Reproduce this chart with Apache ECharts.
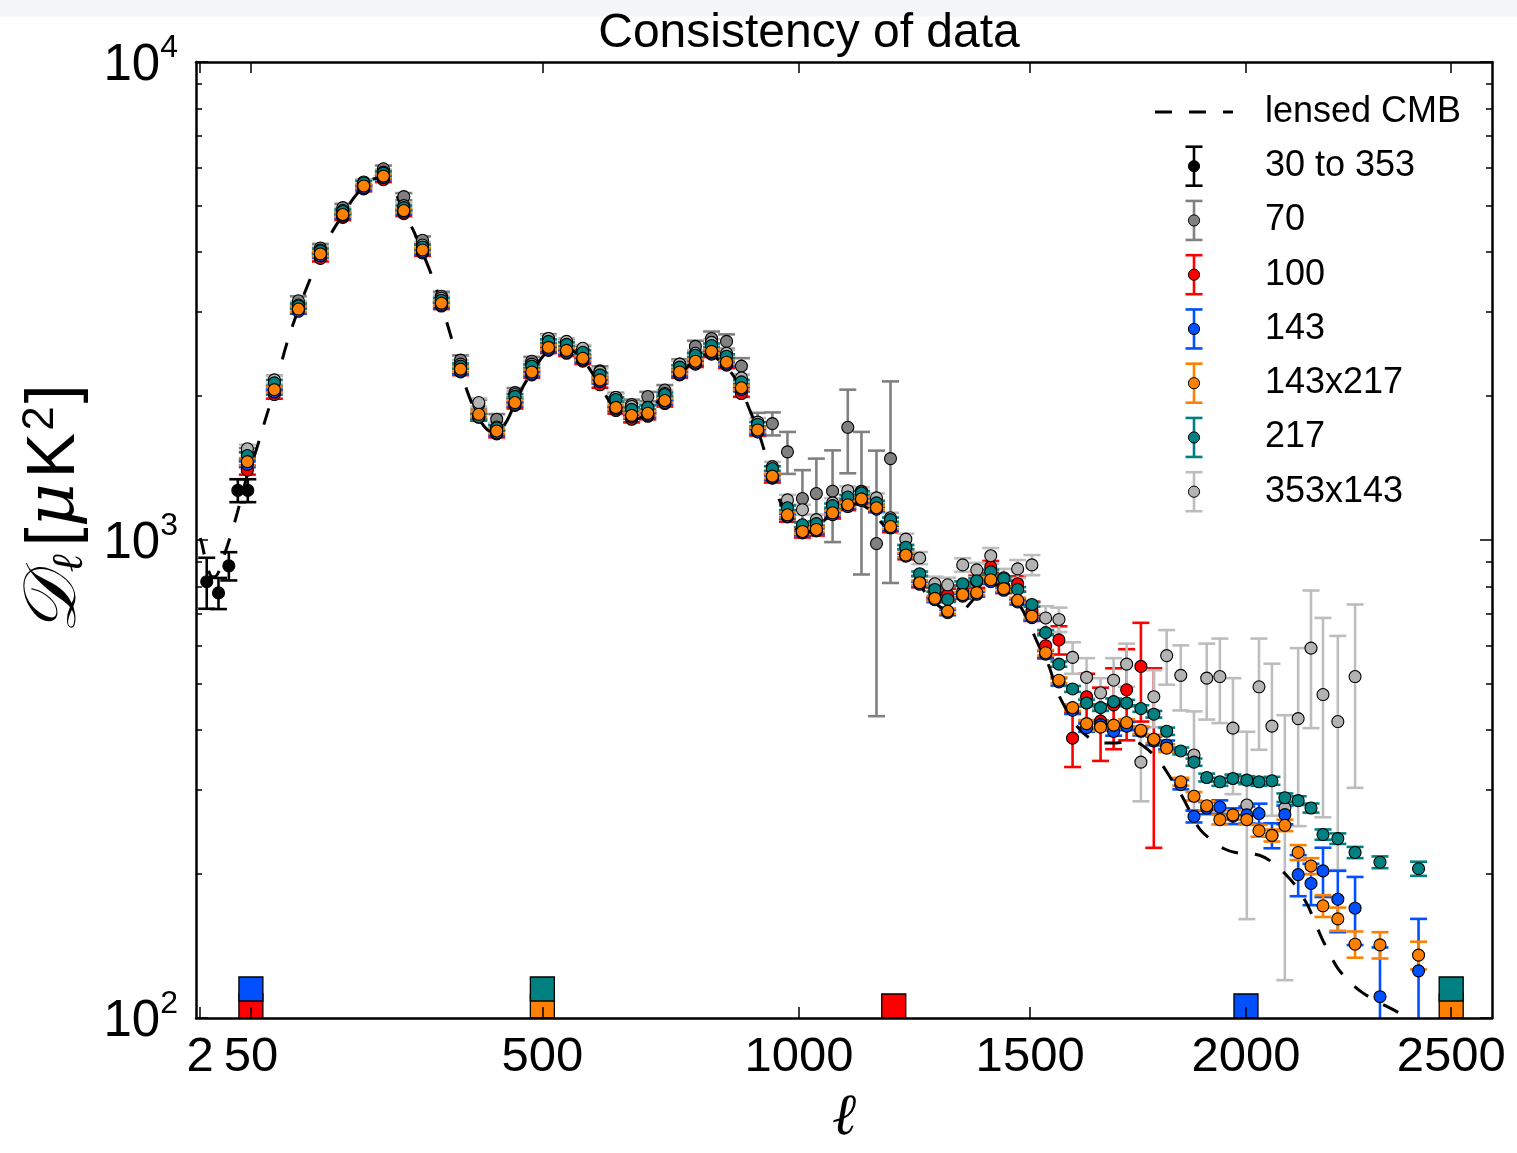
<!DOCTYPE html>
<html><head><meta charset="utf-8">
<script src="https://cdn.jsdelivr.net/npm/echarts@6/dist/echarts.min.js"></script>
<style>html,body{margin:0;padding:0;background:#fff}#c{position:absolute;left:0;top:0;width:1517px;height:1153px}</style>
</head><body><div id="c"></div>
<script>
// ---------------- DATA ----------------
// common multipole bins (binned spectra)
const ell = [46, 78, 109, 139, 171, 202, 232, 264, 294, 325,
 357, 388, 419, 451, 481, 511, 544, 574, 606, 636,
 666, 697, 730, 759, 790, 822, 852, 882, 915, 945,
 976, 1007, 1036, 1070, 1102, 1131, 1163, 1193, 1226, 1256,
 1289, 1317, 1350, 1381, 1412, 1441, 1472, 1504, 1535, 1565,
 1596, 1628, 1660, 1690, 1720, 1753, 1783, 1813, 1846, 1877,
 1907, 1938, 1969, 2002, 2031, 2062, 2093, 2125, 2156, 2185,
 2221, 2263, 2324, 2419];

const d143x217 = [1459, 2063, 3042, 3968, 4797, 5504, 5772, 4889, 4044, 3130,
 2278, 1832, 1691, 1939, 2247, 2529, 2493, 2400, 2163, 1894,
 1823, 1841, 1958, 2247, 2366, 2481, 2355, 2082, 1699, 1360,
 1129, 1042, 1052, 1140, 1185, 1219, 1168, 1067, 930, 814,
 755, 710, 769, 776, 826, 791, 748, 693, 581, 509,
 446, 413, 406, 410, 415, 400, 383, 367, 312, 291,
 278, 260, 266, 260, 246.5, 241, 253, 222, 208, 171.7,
 161.2, 142.7, 142.2, 135.4];
const s143x217 = [25, 30, 40, 45, 50, 55, 55, 50, 45, 40,
 30, 25, 22, 22, 24, 26, 26, 25, 23, 20,
 19, 19, 20, 22, 23, 24, 23, 21, 18, 15,
 13, 12, 12, 12, 12, 12, 12, 11, 10, 9,
 9, 9, 9, 9, 9, 9, 9, 8, 8, 7,
 7, 7, 7, 7, 7, 7, 7, 7, 6, 6,
 6, 6, 6, 6, 7, 7, 7, 8, 8, 9,
 9, 9, 9, 9];

const d217 = [1502, 2132, 3086, 4025, 4866, 5584, 5855, 4959, 4102, 3174,
 2311, 1809, 1715, 1997, 2311, 2603, 2566, 2470, 2215, 1968,
 1876, 1894, 2015, 2300, 2435, 2553, 2424, 2142, 1747, 1411,
 1168, 1076, 1082, 1180, 1230, 1254, 1196, 1103, 966, 850,
 788, 751, 810, 822, 858, 830, 788, 733, 640, 550,
 488, 456, 446, 459, 456, 444, 432, 398, 362, 343,
 318.5, 312, 317, 314.5, 312, 313.5, 289, 285, 275, 242,
 237.3, 222, 211.8, 205.3];
const s217 = [25, 30, 40, 45, 50, 55, 55, 50, 45, 40,
 30, 25, 22, 22, 24, 26, 26, 25, 23, 20,
 19, 19, 20, 22, 23, 24, 23, 21, 18, 15,
 13, 12, 12, 12, 12, 12, 12, 11, 10, 9,
 9, 9, 9, 9, 9, 9, 9, 8, 8, 7,
 7, 7, 7, 7, 7, 7, 7, 7, 6, 6,
 6, 6, 6, 6, 6, 6, 6, 6, 6, 6,
 6, 6, 6, 7];

const d100 = [1400, 2015, 3030, 3881, 4729, 5426, 5672, 4818, 3987, 3086,
 2247, 1806, 1667, 1912, 2215, 2493, 2458, 2366, 2112, 1866,
 1789, 1815, 1930, 2215, 2333, 2447, 2322, 2025, 1683, 1347,
 1118, 1037, 1047, 1134, 1180, 1213, 1168, 1062, 934, 818,
 773, 769, 780, 818, 879, 800, 810, 710, 601, 618,
 385, 470, 418, 452, 486, 544, 383];
const s100 = [30, 40, 50, 55, 60, 65, 65, 60, 55, 45,
 35, 30, 28, 28, 30, 32, 32, 32, 30, 28,
 27, 27, 28, 30, 32, 33, 33, 32, 30, 28,
 26, 25, 25, 25, 25, 25, 25, 24, 23, 22,
 22, 22, 23, 24, 25, 26, 30, 33, 36, 42,
 50, 55, 73, 87, 105, 127, 156];

const d143 = [1440, 2040, 3010, 3930, 4760, 5460, 5730, 4850, 4010, 3100,
 2255, 1815, 1675, 1920, 2225, 2505, 2470, 2380, 2145, 1880,
 1810, 1825, 1940, 2225, 2345, 2460, 2335, 2065, 1685, 1350,
 1120, 1035, 1045, 1130, 1175, 1210, 1160, 1060, 925, 808,
 750, 705, 763, 770, 818, 785, 742, 688, 577, 505,
 440.5, 405, 411, 397.6, 408, 398, 380, 372.6, 307.8, 264,
 275, 276.3, 264.5, 266, 267.8, 241, 266.3, 199.5, 191.2, 203.1,
 177.2, 169.7, 110.8, 125.5];
const s143 = [20, 25, 35, 40, 45, 50, 50, 45, 40, 35,
 28, 22, 20, 20, 22, 24, 24, 23, 21, 19,
 18, 18, 19, 20, 21, 22, 22, 20, 18, 15,
 13, 12, 12, 12, 12, 12, 12, 11, 10, 9,
 9, 9, 9, 9, 9, 9, 9, 9, 9, 9,
 8, 8, 8, 8, 8, 8, 8, 8, 7, 7.5,
 8, 9, 10, 11, 13, 14.5, 12, 19.7, 19, 24,
 26, 27.6, 29.7, 35.7];

const d70 = [1516, 2153, 3165, 4083, 4959, 5557, 5978, 5228, 4237, 3236,
 2378, 1921, 1789, 2034, 2366, 2640, 2578, 2493, 2258, 1987,
 1921, 1996, 2059, 2333, 2541, 2640, 2603, 2311, 1755, 1752,
 1529, 1221, 1251, 1265, 1721, 1265, 983, 1480];
const s70 = [40, 55, 70, 80, 90, 95, 95, 90, 80, 70,
 55, 45, 45, 45, 50, 55, 55, 55, 50, 45,
 45, 45, 50, 55, 70, 90, 90, 90, 90, 97,
 154, 179, 229, 275, 342, 418, 555, 667];

const d353x143 = [1552, 2163, 3101, 4044, 4889, 5611, 5883, 5006, 4141, 3205,
 2333, 1939, 1723, 2015, 2333, 2640, 2603, 2518, 2247, 1987,
 1903, 1894, 2025, 2333, 2458, 2591, 2458, 2184, 1764, 1424,
 1213, 1157, 1103, 1196, 1268, 1262, 1225, 1113, 1004, 917,
 810, 806, 887, 866, 927, 834, 870, 887, 687, 682,
 568, 516, 479, 509, 550, 343, 470, 573, 521, 355,
 514, 518, 404, 279, 493, 408, 275, 423, 594, 475,
 417, 518];
const s353x143 = [30, 40, 55, 65, 70, 75, 75, 70, 65, 55,
 45, 38, 35, 35, 38, 40, 40, 40, 38, 35,
 33, 33, 34, 36, 38, 40, 40, 38, 35, 33,
 30, 28, 27, 27, 27, 27, 27, 27, 27, 27,
 28, 28, 29, 30, 35, 36, 38, 43, 40, 40,
 43, 50, 35, 57, 57, 59, 64, 75, 81, 83,
 93, 104, 110, 118, 129, 143, 155, 171, 190, 212,
 213, 215];

// low-ell "30 to 353" points
const lowEll = [6.5, 16.4, 26.3, 35.6, 46.5];
const dLow = [818, 775, 883, 1270, 1270];
const sLow = [100, 58, 60, 70, 70];

// lensed CMB model [ell, D_ell]
const lensedCMB = [
[2,1010],[3,985],[5,925],[8,862],[11,838],[14,840],[17,862],[20,905],[25,975],[30,1050],
[35,1140],[40,1240],[47,1390],[54,1500],[65,1740],[78,2063],[93,2550],[109,3040],[125,3520],[139,3960],
[155,4400],[171,4790],[186,5170],[202,5490],[218,5700],[232,5720],[248,5400],[264,4880],[280,4420],[294,4000],
[310,3550],[325,3110],[340,2690],[357,2270],[372,1990],[388,1800],[403,1700],[419,1680],[435,1760],[451,1930],
[466,2100],[481,2240],[496,2380],[511,2490],[530,2550],[544,2520],[560,2470],[574,2390],[590,2250],[606,2110],
[620,1980],[636,1870],[652,1800],[666,1780],[682,1800],[697,1850],[713,1930],[730,2020],[745,2110],[759,2200],
[775,2310],[790,2390],[806,2440],[822,2430],[837,2380],[852,2300],[868,2190],[882,2060],[898,1880],[915,1700],
[930,1520],[945,1340],[960,1210],[976,1110],[992,1060],[1007,1035],[1022,1040],[1036,1065],[1053,1100],[1070,1140],
[1086,1170],[1102,1185],[1117,1190],[1131,1185],[1147,1160],[1163,1120],[1178,1075],[1193,1050],[1208,1010],[1226,935],
[1241,875],[1256,815],[1272,765],[1289,740],[1303,722],[1317,712],[1333,705],[1350,710],[1365,735],[1381,765],
[1396,790],[1412,803],[1427,805],[1441,795],[1457,770],[1472,740],[1488,700],[1504,648],[1520,600],[1540,552],
[1563,478],[1583,440],[1603,411],[1630,388],[1658,377],[1690,376],[1720,378],[1738,378],[1760,370],[1783,355],
[1802,339],[1825,315],[1849,291],[1870,268],[1891,248],[1920,235],[1948,226],[1975,222],[2002,221],[2032,219],
[2062,212],[2099,198],[2125,186],[2148,172],[2165,159],[2182,147],[2200,137],[2221,127],[2250,119],[2281,113],
[2320,108],[2362,103.5],[2400,99],[2450,93],[2500,87],[2550,81],[2600,76]
];

// ell-range markers along the bottom
const markEll = [50, 50, 500, 500, 1200, 2000, 2500, 2500];
const markName = ['100', '143', '143x217', '217', '100', '143', '143x217', '217'];

// axis ticks
const xTickEll = [2, 50, 500, 1000, 1500, 2000, 2500];
const ellMax = 2602;
const yMin = 100, yMax = 10000;

const legendOrder = ['30 to 353', '70', '100', '143', '143x217', '217', '353x143'];

// ---------------- CHART ----------------
const P = 0.8;                       // axis is linear in ell^0.8
const tx = l => Math.pow(l, P);
const FONT = '"Liberation Sans", Arial, sans-serif';

const styleOf = {
  '30 to 353': {fill: '#000000', err: '#000000'},
  '70':        {fill: '#808080', err: '#808080'},
  '100':       {fill: '#ff0000', err: '#ff0000'},
  '143':       {fill: '#0050ff', err: '#0050ff'},
  '143x217':   {fill: '#ff8000', err: '#ff8000'},
  '217':       {fill: '#008080', err: '#008080'},
  '353x143':   {fill: '#b3b3b3', err: '#bdbdbd'}
};

// drawing order (bottom to top)
const defs = [
  {name: '30 to 353', l: lowEll, d: dLow, s: sLow},
  {name: '70', l: ell, d: d70, s: s70},
  {name: '100', l: ell, d: d100, s: s100},
  {name: '353x143', l: ell, d: d353x143, s: s353x143},
  {name: '143', l: ell, d: d143, s: s143},
  {name: '217', l: ell, d: d217, s: s217},
  {name: '143x217', l: ell, d: d143x217, s: s143x217}
];

function errRender(color) {
  return function (params, api) {
    const x = api.value(0);
    const a = api.coord([x, api.value(1)]);
    const b = api.coord([x, api.value(2)]);
    const hw = 8.5;
    const st = {stroke: color, lineWidth: 2.6};
    return {type: 'group', children: [
      {type: 'line', shape: {x1: a[0], y1: a[1], x2: b[0], y2: b[1]}, style: st},
      {type: 'line', shape: {x1: a[0] - hw, y1: a[1], x2: a[0] + hw, y2: a[1]}, style: st},
      {type: 'line', shape: {x1: b[0] - hw, y1: b[1], x2: b[0] + hw, y2: b[1]}, style: st}
    ]};
  };
}

const series = [];
series.push({
  type: 'line', name: 'lensed CMB', data: lensedCMB.map(p => [tx(p[0]), p[1]]),
  showSymbol: false, symbol: 'none', smooth: 0.35, clip: true, silent: true,
  lineStyle: {color: '#000', width: 3, type: [17, 17]}, z: 2
});
defs.forEach(df => {
  const st = styleOf[df.name];
  const pts = [];
  for (let i = 0; i < df.d.length; i++) {
    if (df.d[i] == null) continue;
    pts.push({x: tx(df.l[i]), y: df.d[i], s: df.s[i]});
  }
  series.push({
    type: 'custom', name: df.name + ' err', clip: true, silent: true, z: 2,
    data: pts.map(p => [p.x, p.y - p.s, p.y + p.s]),
    encode: {x: 0, y: [1, 2]},
    renderItem: errRender(st.err)
  });
  series.push({
    type: 'scatter', name: df.name, clip: true, silent: true, z: 2,
    data: pts.map(p => [p.x, p.y]),
    symbol: 'circle', symbolSize: 12,
    itemStyle: {color: st.fill, borderColor: '#000', borderWidth: 1.1, opacity: 1}
  });
});
// range squares
const rowCount = {};
const markData = markEll.map((l, i) => {
  const row = rowCount[l] || 0; rowCount[l] = row + 1;
  return {value: [tx(l), yMin], symbolOffset: [0, row === 0 ? -12 : -29],
          itemStyle: {color: styleOf[markName[i]].fill}};
});
series.push({
  type: 'scatter', name: 'ranges', data: markData, symbol: 'rect', symbolSize: 24,
  clip: false, silent: true, z: 2,
  itemStyle: {borderColor: '#000', borderWidth: 1.3, opacity: 1}
});

// legend (drawn as graphic)
const lg = [];
lg.push({type: 'rect', shape: {x: 0, y: 0, width: 1517, height: 16.5}, style: {fill: '#f4f5f7'}, z: -5});
lg.push({type: 'line', shape: {x1: 1155, y1: 112, x2: 1233, y2: 112},
         style: {stroke: '#000', lineWidth: 3, lineDash: [17, 17]}});
lg.push({type: 'text', x: 1265, y: 112,
         style: {text: 'lensed CMB', fontSize: 36, fontFamily: FONT, fill: '#000', verticalAlign: 'middle', align: 'left'}});
legendOrder.forEach((nm, i) => {
  const y = 166.2 + 54.25 * i, x = 1194, st = styleOf[nm];
  const h = 19.5;
  const ls = {stroke: st.err, lineWidth: 2.6};
  lg.push({type: 'line', shape: {x1: x, y1: y - h, x2: x, y2: y + h}, style: ls});
  lg.push({type: 'line', shape: {x1: x - 8.5, y1: y - h, x2: x + 8.5, y2: y - h}, style: ls});
  lg.push({type: 'line', shape: {x1: x - 8.5, y1: y + h, x2: x + 8.5, y2: y + h}, style: ls});
  lg.push({type: 'circle', shape: {cx: x, cy: y, r: 5.6}, style: {fill: st.fill, stroke: '#000', lineWidth: 1}});
  lg.push({type: 'text', x: 1265, y: y,
           style: {text: nm, fontSize: 36, fontFamily: FONT, fill: '#000', verticalAlign: 'middle', align: 'left'}});
});

const xTicks = xTickEll.map(tx);
const axisLineStyle = {color: '#000', width: 2.5};
const yLabel = v => '{b|10}{s|' + Math.round(Math.log10(v)) + '}';
const serif = '"DejaVu Serif", serif';

const option = {
  animation: false,
  backgroundColor: '#fff',
  title: {text: 'Consistency of data', left: 804, top: 5, textAlign: 'center',
          textStyle: {fontSize: 48, fontWeight: 'normal', fontFamily: FONT, color: '#000'}},
  grid: {left: 196, width: 1296, top: 62, height: 971, containLabel: false},
  xAxis: [{
    type: 'value', position: 'bottom', min: 0, max: tx(ellMax), z: 5,
    axisLine: {show: true, onZero: false, lineStyle: axisLineStyle},
    axisTick: {show: true, inside: true, length: 11, customValues: xTicks, lineStyle: {color: '#000', width: 1.5}},
    axisLabel: {show: true, customValues: xTicks, margin: 15,
      formatter: v => String(Math.round(Math.pow(v, 1 / P))),
      fontSize: 49, fontFamily: FONT, color: '#000'},
    splitLine: {show: false},
    name: 'ℓ', nameLocation: 'middle', nameGap: 72,
    nameTextStyle: {fontSize: 58, fontFamily: serif, fontStyle: 'italic', color: '#000'}
  }, {
    type: 'value', position: 'top', min: 0, max: tx(ellMax), z: 5,
    axisLine: {show: true, onZero: false, lineStyle: axisLineStyle},
    axisTick: {show: true, inside: true, length: 11, customValues: xTicks, lineStyle: {color: '#000', width: 1.5}},
    axisLabel: {show: false}, splitLine: {show: false}
  }],
  yAxis: [{
    type: 'log', logBase: 10, min: yMin, max: yMax, position: 'left', z: 5,
    axisLine: {show: true, onZero: false, lineStyle: axisLineStyle},
    axisTick: {show: true, inside: true, length: 12, lineStyle: {color: '#000', width: 1.5}},
    minorTick: {show: true, splitNumber: 9, length: 6, lineStyle: {color: '#000', width: 1.5}},
    axisLabel: {formatter: yLabel, margin: 18, color: '#000',
      rich: {b: {fontSize: 51, fontFamily: FONT, color: '#000', padding: [8, 0, 0, 0]},
             s: {fontSize: 32, fontFamily: FONT, color: '#000', verticalAlign: 'top'}}},
    splitLine: {show: false}, minorSplitLine: {show: false},
    name: '{d|𝒟}{l|ℓ}{t|[}{m|μ}{t|K}{u|2}{t|]}', nameLocation: 'middle', nameGap: 100, nameRotate: 90,
    nameTextStyle: {color: '#000', padding: [0, 0, 0, 62],
      rich: {d: {fontSize: 74, fontFamily: serif, fontStyle: 'italic', color: '#000', padding: [0, 2, 0, 0]},
             l: {fontSize: 44, fontFamily: serif, fontStyle: 'italic', color: '#000', verticalAlign: 'bottom', padding: [0, 8, 0, 0]},
             t: {fontSize: 68, fontFamily: FONT, color: '#000'},
             m: {fontSize: 68, fontFamily: serif, fontStyle: 'italic', color: '#000', padding: [0, 5, 0, 0]},
             u: {fontSize: 44, fontFamily: FONT, color: '#000', verticalAlign: 'top', padding: [0, 3, 0, 2]}}}
  }, {
    type: 'log', logBase: 10, min: yMin, max: yMax, position: 'right', z: 5,
    axisLine: {show: true, onZero: false, lineStyle: axisLineStyle},
    axisTick: {show: true, inside: true, length: 12, lineStyle: {color: '#000', width: 1.5}},
    minorTick: {show: true, splitNumber: 9, length: 6, lineStyle: {color: '#000', width: 1.5}},
    axisLabel: {show: false}, splitLine: {show: false}, minorSplitLine: {show: false}
  }],
  graphic: {elements: lg},
  series: series
};

const chart = echarts.init(document.getElementById('c'), null, {renderer: 'canvas', width: 1517, height: 1153});
chart.setOption(option);
</script>
</body></html>
